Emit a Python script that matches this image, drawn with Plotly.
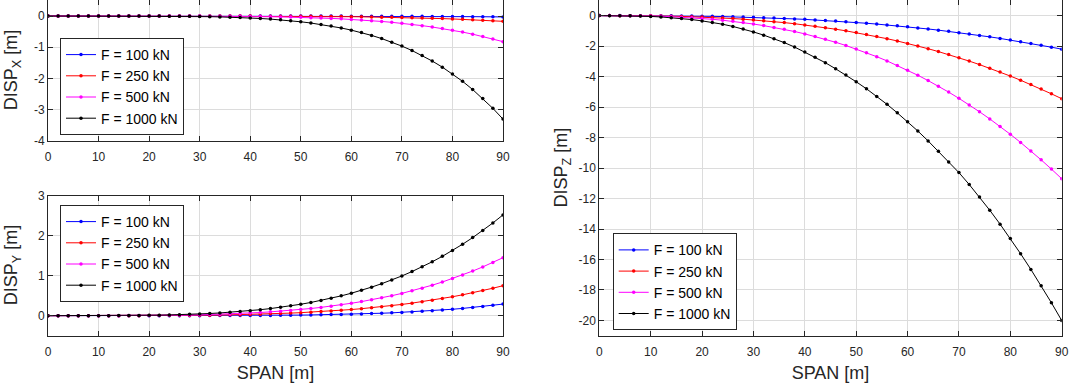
# Cable displacement under lateral load: DISP X / Y / Z along the span

import plotly.graph_objs as go

# span positions [m]
SPAN = [0, 2, 4, 6, 8, 10, 12, 14, 16, 18,
        20, 22, 24, 26, 28, 30, 32, 34, 36, 38,
        40, 42, 44, 46, 48, 50, 52, 54, 56, 58,
        60, 62, 64, 66, 68, 70, 72, 74, 76, 78,
        80, 82, 84, 86, 88, 90]

LOAD_NAMES = ["F = 100 kN", "F = 250 kN", "F = 500 kN", "F = 1000 kN"]

# DISP_X [m]
DISP_X_100 = [0, 0, 0, 0, 0, 0, 0, 0, 0, 0,
              0, 0, 0, 0, 0, 0, 0, 0, 0, 0,
              0, 0, 0, 0, 0, -0.002, -0.002, -0.002, -0.003, -0.003,
              -0.004, -0.005, -0.005, -0.006, -0.007, -0.009, -0.010, -0.011, -0.013, -0.015,
              -0.017, -0.019, -0.021, -0.024, -0.027, -0.030]
DISP_X_250 = [0, 0, 0, 0, 0, 0, 0, 0, 0, 0,
              0, 0, 0, 0, 0, 0, 0, 0, 0, 0,
              -0.003, -0.004, -0.005, -0.006, -0.007, -0.009, -0.011, -0.013, -0.016, -0.019,
              -0.022, -0.026, -0.031, -0.036, -0.042, -0.048, -0.056, -0.064, -0.073, -0.083,
              -0.094, -0.107, -0.120, -0.135, -0.152, -0.170]
DISP_X_500 = [0, 0, 0, 0, 0, 0, 0, 0, 0, 0,
              0, 0, 0, 0, 0, -0.003, -0.005, -0.006, -0.008, -0.011,
              -0.014, -0.018, -0.023, -0.029, -0.035, -0.043, -0.053, -0.064, -0.076, -0.091,
              -0.108, -0.127, -0.149, -0.174, -0.202, -0.233, -0.269, -0.308, -0.352, -0.401,
              -0.455, -0.515, -0.581, -0.653, -0.733, -0.820]
DISP_X_1000 = [0, 0, 0, 0, 0, 0, 0, 0, 0, 0,
               -0.002, -0.003, -0.005, -0.007, -0.010, -0.015, -0.021, -0.028, -0.037, -0.048,
               -0.062, -0.079, -0.099, -0.123, -0.151, -0.185, -0.224, -0.270, -0.322, -0.383,
               -0.452, -0.531, -0.621, -0.722, -0.836, -0.963, -1.105, -1.265, -1.441, -1.636,
               -1.853, -2.090, -2.353, -2.641, -2.955, -3.300]

# DISP_Y [m]
DISP_Y_100 = [0, 0, 0, 0, 0, 0, 0, 0, 0, 0,
              0, 0, 0, 0, 0, 0.001, 0.002, 0.002, 0.003, 0.004,
              0.005, 0.006, 0.008, 0.010, 0.013, 0.015, 0.019, 0.023, 0.027, 0.032,
              0.038, 0.045, 0.053, 0.062, 0.071, 0.083, 0.095, 0.109, 0.125, 0.142,
              0.161, 0.182, 0.205, 0.231, 0.259, 0.290]
DISP_Y_250 = [0, 0, 0, 0, 0, 0, 0, 0, 0, 0,
              0.002, 0.003, 0.004, 0.006, 0.008, 0.010, 0.013, 0.017, 0.021, 0.026,
              0.032, 0.038, 0.046, 0.055, 0.065, 0.076, 0.088, 0.102, 0.118, 0.135,
              0.154, 0.175, 0.199, 0.224, 0.251, 0.282, 0.314, 0.350, 0.388, 0.429,
              0.474, 0.522, 0.573, 0.628, 0.687, 0.750]
DISP_Y_500 = [0, 0, 0, 0, 0, 0, 0, 0, 0.002, 0.003,
              0.005, 0.007, 0.010, 0.013, 0.017, 0.022, 0.029, 0.036, 0.045, 0.055,
              0.067, 0.080, 0.096, 0.113, 0.133, 0.155, 0.180, 0.208, 0.239, 0.273,
              0.311, 0.352, 0.397, 0.446, 0.500, 0.558, 0.621, 0.689, 0.763, 0.842,
              0.927, 1.018, 1.116, 1.220, 1.331, 1.450]
DISP_Y_1000 = [0, 0, 0, 0, 0, 0.001, 0.001, 0.003, 0.004, 0.007,
               0.010, 0.014, 0.019, 0.025, 0.034, 0.043, 0.055, 0.069, 0.085, 0.104,
               0.125, 0.150, 0.178, 0.210, 0.246, 0.286, 0.331, 0.381, 0.435, 0.496,
               0.562, 0.634, 0.714, 0.800, 0.893, 0.994, 1.104, 1.222, 1.348, 1.484,
               1.630, 1.786, 1.952, 2.129, 2.319, 2.520]

# DISP_Z [m]
DISP_Z_100 = [0, 0, 0, -0.001, -0.003, -0.006, -0.010, -0.014, -0.021, -0.029,
              -0.038, -0.049, -0.062, -0.077, -0.094, -0.113, -0.135, -0.159, -0.185, -0.215,
              -0.246, -0.281, -0.319, -0.359, -0.403, -0.450, -0.500, -0.554, -0.611, -0.672,
              -0.736, -0.804, -0.876, -0.952, -1.032, -1.116, -1.204, -1.297, -1.394, -1.495,
              -1.601, -1.711, -1.826, -1.946, -2.070, -2.200]
DISP_Z_250 = [0, 0, -0.001, -0.004, -0.008, -0.014, -0.024, -0.036, -0.051, -0.071,
              -0.094, -0.121, -0.154, -0.191, -0.233, -0.281, -0.334, -0.394, -0.459, -0.531,
              -0.610, -0.697, -0.789, -0.890, -0.998, -1.115, -1.239, -1.372, -1.513, -1.664,
              -1.824, -1.993, -2.171, -2.359, -2.557, -2.765, -2.983, -3.213, -3.453, -3.703,
              -3.965, -4.239, -4.524, -4.821, -5.129, -5.450]
DISP_Z_500 = [0, 0, -0.002, -0.007, -0.016, -0.028, -0.046, -0.070, -0.101, -0.139,
              -0.184, -0.238, -0.302, -0.374, -0.457, -0.551, -0.656, -0.773, -0.901, -1.043,
              -1.198, -1.367, -1.549, -1.747, -1.960, -2.188, -2.433, -2.694, -2.971, -3.267,
              -3.580, -3.912, -4.262, -4.631, -5.019, -5.428, -5.857, -6.308, -6.778, -7.271,
              -7.785, -8.322, -8.881, -9.464, -10.070, -10.700]
DISP_Z_1000 = [0, -0.001, -0.004, -0.013, -0.029, -0.053, -0.087, -0.132, -0.189, -0.259,
               -0.345, -0.446, -0.564, -0.710, -0.880, -1.070, -1.280, -1.510, -1.770, -2.060,
               -2.390, -2.730, -3.090, -3.490, -3.900, -4.340, -4.800, -5.300, -5.820, -6.380,
               -6.970, -7.570, -8.220, -8.900, -9.600, -10.300, -11.080, -11.900, -12.770, -13.680,
               -14.630, -15.620, -16.650, -17.720, -18.840, -20.000]

# tick labels
SPAN_TICKS = [0, 10, 20, 30, 40, 50, 60, 70, 80, 90]
DISP_X_TICKS = [0, -1, -2, -3, -4]
DISP_Y_TICKS = [0, 1, 2, 3]
DISP_Z_TICKS = [0, -2, -4, -6, -8, -10, -12, -14, -16, -18, -20]

LINE_COLORS = ["#0000ff", "#ff0000", "#ff00ff", "#000000"]
FONT = "Liberation Sans, Arial, Helvetica, sans-serif"
AXIS_COLOR = "#262626"
GRID_COLOR = "#dcdcdc"
W, H = 1092, 384


def make_trace(x_list, y_list, trace_name, line_color, xaxis, yaxis, legend):
    """Return a lines+markers trace bound to one subplot and one legend."""
    trace = go.Scatter(
        x=x_list,
        y=y_list,
        mode="lines+markers",
        name=trace_name,
        line=dict(width=1, color=line_color),
        marker=dict(size=3.5, color=line_color),
        xaxis=xaxis,
        yaxis=yaxis,
        legend=legend,
        hoverinfo="x+y+name"
    )
    return trace


def make_axis(domain, axis_range, tick_values, anchor, title=None, standoff=9,
              label_standoff=0):
    """Return a MATLAB-looking boxed axis with inside ticks and light grid."""
    axis = dict(
        domain=domain,
        range=axis_range,
        anchor=anchor,
        tickmode="array",
        tickvals=tick_values,
        ticktext=[str(v) for v in tick_values],
        showline=True,
        mirror="ticks",
        linecolor=AXIS_COLOR,
        linewidth=1,
        ticks="inside",
        ticklen=5,
        tickwidth=1,
        tickcolor=AXIS_COLOR,
        showgrid=True,
        gridcolor=GRID_COLOR,
        gridwidth=1,
        zeroline=False,
        automargin=False,
        ticklabelstandoff=label_standoff,
        tickfont=dict(family=FONT, size=12, color=AXIS_COLOR),
    )
    if title:
        axis["title"] = dict(text=title, standoff=standoff,
                             font=dict(family=FONT, size=18, color=AXIS_COLOR))
    return axis


def make_legend(x_pos, y_pos):
    return dict(
        x=x_pos, y=y_pos, xanchor="left", yanchor="top",
        bgcolor="white", bordercolor=AXIS_COLOR, borderwidth=1,
        font=dict(family=FONT, size=14, color="black"),
        tracegroupgap=0, itemwidth=30
    )


def make_ytitle(text, x_px, y_mid):
    """Rotated y axis label placed in pixel terms."""
    return dict(
        text=text, textangle=-90, showarrow=False,
        xref="paper", yref="paper", x=x_px / W, y=y_mid,
        xanchor="left", yanchor="middle",
        font=dict(family=FONT, size=18, color=AXIS_COLOR)
    )


panels = [
    ("x", "y", "legend", [DISP_X_100, DISP_X_250, DISP_X_500, DISP_X_1000]),
    ("x2", "y2", "legend2", [DISP_Y_100, DISP_Y_250, DISP_Y_500, DISP_Y_1000]),
    ("x3", "y3", "legend3", [DISP_Z_100, DISP_Z_250, DISP_Z_500, DISP_Z_1000]),
]

traces = []
for xaxis, yaxis, legend, series in panels:
    for index in range(len(series)):
        traces.append(make_trace(SPAN, series[index], LOAD_NAMES[index],
                                 LINE_COLORS[index], xaxis, yaxis, legend))

left_dom = [48 / W, 503 / W]
right_dom = [599.3 / W, 1061.7 / W]
top_dom = [1 - 141 / H, 0.999]
bottom_dom = [1 - 335.7 / H, 1 - 195.7 / H]
tall_dom = [1 - 335.7 / H, 0.999]

layout = dict(
    width=W,
    height=H,
    margin=dict(l=0, r=0, t=0, b=0),
    paper_bgcolor="white",
    plot_bgcolor="white",
    font=dict(family=FONT, color=AXIS_COLOR),
    xaxis=make_axis(left_dom, [0, 90], SPAN_TICKS, "y", label_standoff=5),
    yaxis=make_axis(top_dom, [-4, 0.5], DISP_X_TICKS, "x"),
    xaxis2=make_axis(left_dom, [0, 90], SPAN_TICKS, "y2", "SPAN [m]", 8, label_standoff=5),
    yaxis2=make_axis(bottom_dom, [-0.5, 3], DISP_Y_TICKS, "x2"),
    xaxis3=make_axis(right_dom, [0, 90], SPAN_TICKS, "y3", "SPAN [m]", 8, label_standoff=5),
    yaxis3=make_axis(tall_dom, [-21, 1], DISP_Z_TICKS, "x3"),
    legend=make_legend(60 / W, 1 - 38 / H),
    legend2=make_legend(60 / W, 1 - 205 / H),
    legend3=make_legend(612.7 / W, 1 - 233.3 / H),
    annotations=[
        make_ytitle("DISP<sub>X</sub> [m]", -1, sum(top_dom) / 2),
        make_ytitle("DISP<sub>Y</sub> [m]", -1, sum(bottom_dom) / 2),
        make_ytitle("DISP<sub>Z</sub> [m]", 549, sum(tall_dom) / 2),
    ],
    showlegend=True,
)

figure = go.Figure(data=traces, layout=layout)
# the page body has a default 8px margin; drop it so the figure sits at 0,0
figure.write_html("out.html", config={"displayModeBar": False},
                  post_script="document.body.style.margin = '0px';")
